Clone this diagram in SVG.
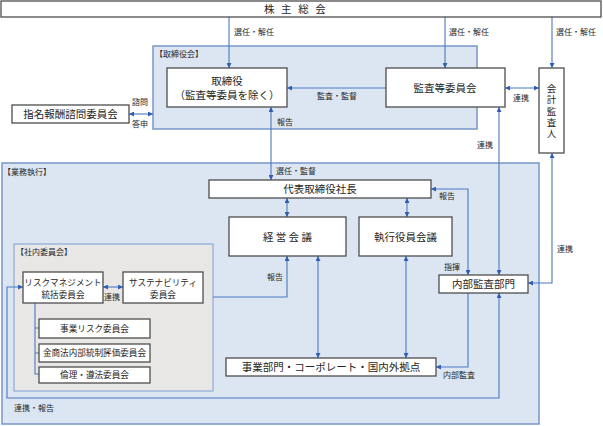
<svg xmlns="http://www.w3.org/2000/svg" width="603" height="426" viewBox="0 0 603 426">
<defs>
<marker id="ah" viewBox="0 0 6 6" refX="6" refY="3" markerWidth="5" markerHeight="5" markerUnits="userSpaceOnUse" orient="auto-start-reverse">
<path d="M0,0 L6,3 L0,6 z" fill="#2f5fb3"/>
</marker>
</defs>
<style>
text{font-family:"Noto Sans CJK JP","Noto Sans",sans-serif;fill:#262626}
.box{fill:#fff;stroke:#4d4d4d;stroke-width:1.3}
.region{fill:#dce6f2;stroke:#7896c9;stroke-width:1.5}
.gray{fill:#e8e7e5;stroke:#8eaad6;stroke-width:1.2}
.t{font-size:10.5px}
.v{font-size:9.5px;writing-mode:vertical-rl}
.s{font-size:8.6px}
.lb{font-size:8px}
.c{fill:none;stroke:#4a78c2;stroke-width:1.1}
.m{text-anchor:middle}
</style>
<rect width="603" height="426" fill="#fff"/>

<g id="regions">
<rect id="board-region" class="region" x="153" y="46" width="324" height="83"/>
<text class="lb" x="155" y="57">【取締役会】</text>
<rect id="exec-region" class="region" x="2" y="163" width="537" height="261"/>
<text class="lb" x="3" y="175">【業務執行】</text>
<rect id="committee-region" class="gray" x="14" y="244" width="199" height="147"/>
<text class="lb" x="16" y="255">【社内委員会】</text>
</g>

<g id="connectors">
<path class="c" d="M229,17 V68" marker-end="url(#ah)"/>
<path class="c" d="M445,17 V68" marker-end="url(#ah)"/>
<path class="c" d="M552,17 V68" marker-end="url(#ah)"/>
<path class="c" d="M386,88 H287" marker-end="url(#ah)"/>
<path class="c" d="M505,88 H539" marker-start="url(#ah)" marker-end="url(#ah)"/>
<path class="c" d="M129,114 H153" marker-start="url(#ah)" marker-end="url(#ah)"/>
<path class="c" d="M271,107 V180" marker-start="url(#ah)" marker-end="url(#ah)"/>
<path class="c" d="M499,107 V275" marker-start="url(#ah)" marker-end="url(#ah)"/>
<path class="c" d="M552,153 V283 H528" marker-start="url(#ah)" marker-end="url(#ah)"/>
<path class="c" d="M431,189 H468 V275" marker-start="url(#ah)" marker-end="url(#ah)"/>
<path class="c" d="M287,198 V217" marker-start="url(#ah)" marker-end="url(#ah)"/>
<path class="c" d="M407,198 V217" marker-start="url(#ah)" marker-end="url(#ah)"/>
<path class="c" d="M318,256 V358" marker-start="url(#ah)" marker-end="url(#ah)"/>
<path class="c" d="M406,256 V358" marker-start="url(#ah)" marker-end="url(#ah)"/>
<path class="c" d="M468,293 V367 H436" marker-end="url(#ah)"/>
<path class="c" d="M213,297 H287 V256" marker-end="url(#ah)"/>
<path class="c" d="M499,293 V398 H7 V287 H23" marker-start="url(#ah)" marker-end="url(#ah)"/>
<path class="c" d="M103,287 H123" marker-start="url(#ah)" marker-end="url(#ah)"/>
<path class="c" d="M35,303 V374 H39 M35,328 H39 M35,353 H39"/>
<text class="lb" x="234" y="35">選任・解任</text>
<text class="lb" x="449" y="35">選任・解任</text>
<text class="lb" x="556" y="35">選任・解任</text>
<text class="lb" x="132" y="105">諮問</text>
<text class="lb" x="132" y="127">答申</text>
<text class="lb" x="317" y="99">監査・監督</text>
<text class="lb" x="513" y="101">連携</text>
<text class="lb" x="277" y="125">報告</text>
<text class="lb" x="477" y="148">連携</text>
<text class="lb" x="276" y="174">選任・監督</text>
<text class="lb" x="439" y="199">報告</text>
<text class="lb" x="444" y="270">指揮</text>
<text class="lb" x="557" y="252">連携</text>
<text class="lb" x="267" y="280">報告</text>
<text class="lb" x="104" y="300">連携</text>
<text class="lb" x="443" y="378">内部監査</text>
<text class="lb" x="14" y="411">連携・報告</text>
</g>

<g id="shareholders">
<rect class="box" x="1" y="1" width="600" height="16"/>
<text class="t" x="264" y="13" letter-spacing="6.6">株主総会</text>
</g>

<g id="directors">
<rect class="box" x="167" y="68" width="120" height="39"/>
<text class="t m" x="227" y="85">取締役</text>
<text class="t m" x="227" y="99">（監査等委員を除く）</text>
</g>

<g id="audit-committee">
<rect class="box" x="386" y="68" width="119" height="39"/>
<text class="t m" x="445" y="92">監査等委員会</text>
</g>

<g id="accounting-auditor">
<rect class="box" x="539" y="68" width="25" height="85"/>
<text class="v" x="551.5" y="84" letter-spacing="1.6">会計監査人</text>
</g>

<g id="nomination-committee">
<rect class="box" x="12" y="105" width="117" height="18"/>
<text class="t m" x="70.5" y="118">指名報酬諮問委員会</text>
</g>

<g id="president">
<rect class="box" x="209" y="180" width="222" height="18"/>
<text class="t m" x="320" y="193">代表取締役社長</text>
</g>

<g id="management-meeting">
<rect class="box" x="229" y="217" width="117" height="39"/>
<text class="t" x="263" y="241" letter-spacing="2.3">経営会議</text>
</g>

<g id="executive-officers-meeting">
<rect class="box" x="359" y="217" width="93" height="39"/>
<text class="t m" x="405.5" y="241">執行役員会議</text>
</g>

<g id="internal-audit">
<rect class="box" x="439" y="275" width="89" height="18"/>
<text class="t m" x="483.5" y="288">内部監査部門</text>
</g>

<g id="business-units">
<rect class="box" x="226" y="358" width="210" height="18"/>
<text class="t m" x="331" y="371">事業部門・コーポレート・国内外拠点</text>
</g>

<g id="risk-management">
<rect class="box" x="23" y="272" width="80" height="31"/>
<text class="s m" x="63" y="286">リスクマネジメント</text>
<text class="s m" x="63" y="298">統括委員会</text>
</g>

<g id="sustainability">
<rect class="box" x="123" y="272" width="80" height="31"/>
<text class="s m" x="163" y="286">サステナビリティ</text>
<text class="s m" x="163" y="298">委員会</text>
</g>

<g id="business-risk">
<rect class="box" x="39" y="319" width="111" height="19"/>
<text class="s m" x="94.5" y="331.5">事業リスク委員会</text>
</g>

<g id="jsox">
<rect class="box" x="39" y="344" width="111" height="18"/>
<text class="s m" x="94.5" y="356">金商法内部統制評価委員会</text>
</g>

<g id="ethics">
<rect class="box" x="39" y="367" width="111" height="16"/>
<text class="s m" x="94.5" y="378">倫理・遵法委員会</text>
</g>
</svg>
